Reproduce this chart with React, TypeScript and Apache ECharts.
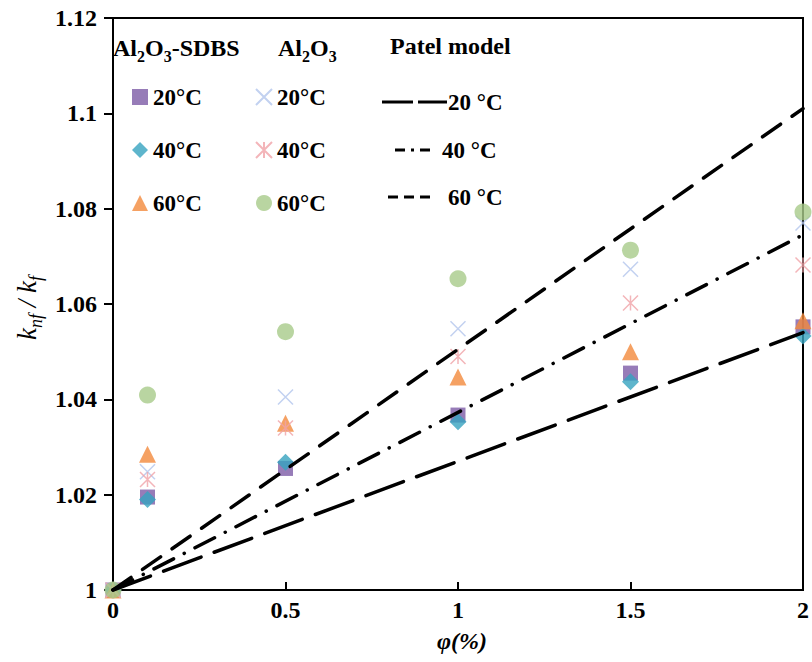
import { useEffect, useRef } from 'react';
import * as echarts from 'echarts';

const FONT = '"Liberation Serif", "Times New Roman", serif';

// concentration φ (%)
const phi = [0, 0.1, 0.5, 1, 1.5, 2];
// Al2O3-SDBS
const sdbs20 = [1, 1.0195, 1.0255, 1.0367, 1.0455, 1.0552];
const sdbs40 = [1, 1.019, 1.0268, 1.0353, 1.0437, 1.0533];
const sdbs60 = [1, 1.0285, 1.035, 1.0447, 1.05, 1.0565];
// Al2O3
const al20 = [1, 1.0248, 1.0405, 1.0548, 1.0673, 1.077];
const al40 = [1, 1.0232, 1.034, 1.049, 1.0602, 1.0682];
const al60 = [1, 1.0409, 1.0542, 1.0653, 1.0713, 1.0793];
// Patel model (straight lines)
const patelPhi = [0, 2];
const patel20 = [1, 1.054];
const patel40 = [1, 1.0745];
const patel60 = [1, 1.101];
const patelLabels = ['20 °C', '40 °C', '60 °C'];

const xTicks = { min: 0, max: 2, interval: 0.5 };
const yTicks = { min: 1, max: 1.12, interval: 0.02 };

const X_PATH = 'path://M0,0L10,10M10,0L0,10';
const AST_PATH = 'path://M0,0L10,10M10,0L0,10M5,0L5,10';

export default function App() {
  const ref = useRef<HTMLDivElement>(null);
  useEffect(() => {
    const chart = echarts.init(ref.current!, null, { renderer: 'svg' });
    const pts = (ys: number[]) => phi.map((x, i) => [x, ys[i]]);
    const lpts = (ys: number[]) => patelPhi.map((x, i) => [x, ys[i]]);
    const legText = {
      fontFamily: FONT,
      fontWeight: 'bold' as const,
      fontSize: 23,
      color: '#000',
      lineHeight: 24,
    };
    const fmt = (n: string) => n.split(' ').slice(1).join(' ');
    const bold = { fontFamily: FONT, fontWeight: 'bold' as const, fontSize: 24, fill: '#000' };
    const sub = { fontFamily: FONT, fontWeight: 'bold' as const, fontSize: 16, fill: '#000', padding: [16, 0, 0, 0] };
    const legStroke = { stroke: '#000', lineWidth: 3.2 };
    const patelLegend = [
      { y: 102, x1: 382, x2: 447, dash: [31, 5, 29, 50], tx: 448 },
      { y: 150, x1: 395, x2: 430, dash: [10, 6, 3, 6, 10, 50], tx: 442 },
      { y: 197, x1: 388, x2: 430, dash: [10, 6, 10, 6, 10, 50], tx: 448 },
    ];
    const patelGraphics: any[] = [];
    patelLegend.forEach((p, i) => {
      patelGraphics.push({
        type: 'line', shape: { x1: p.x1, y1: p.y, x2: p.x2, y2: p.y },
        style: { ...legStroke, lineDash: p.dash },
      });
      patelGraphics.push({
        type: 'text', x: p.tx, y: p.y,
        style: { text: patelLabels[i], ...bold, fontSize: 23, align: 'left', verticalAlign: 'middle' },
      });
    });
    chart.setOption({
      animation: false,
      backgroundColor: '#fff',
      grid: { left: 113, right: 4, top: 18, bottom: 72, show: true, borderColor: '#000', borderWidth: 2 },
      xAxis: {
        type: 'value',
        ...xTicks,
        axisLine: { show: true, lineStyle: { color: '#000', width: 2 } },
        axisTick: { show: true, inside: true, length: 8, lineStyle: { color: '#000', width: 2 } },
        splitLine: { show: false },
        axisLabel: { color: '#000', fontFamily: FONT, fontWeight: 'bold', fontSize: 24, margin: 8 },
      },
      yAxis: {
        type: 'value',
        ...yTicks,
        axisLine: { show: true, lineStyle: { color: '#000', width: 2 } },
        axisTick: { show: true, inside: false, length: 9, lineStyle: { color: '#000', width: 2 } },
        splitLine: { show: false },
        axisLabel: {
          color: '#000', fontFamily: FONT, fontWeight: 'bold', fontSize: 24, margin: 16,
          formatter: (v: number) => String(Number(v.toFixed(2))),
        },
      },
      legend: [
        {
          orient: 'vertical', left: 132, top: 85, padding: 0, itemWidth: 16, itemHeight: 16, itemGap: 29,
          selectedMode: false, formatter: fmt, textStyle: legText,
          data: ['SDBS 20°C', 'SDBS 40°C', 'SDBS 60°C'],
        },
        {
          orient: 'vertical', left: 255, top: 85, padding: 0, itemWidth: 16, itemHeight: 16, itemGap: 29,
          selectedMode: false, formatter: fmt, textStyle: legText,
          data: ['Al 20°C', 'Al 40°C', 'Al 60°C'],
        },
      ],
      graphic: [
        {
          type: 'text', x: 113, y: 48,
          style: { text: '{b|Al}{s|2}{b|O}{s|3}{b|-SDBS}', rich: { b: bold, s: sub }, align: 'left', verticalAlign: 'middle' },
        },
        {
          type: 'text', x: 278, y: 48,
          style: { text: '{b|Al}{s|2}{b|O}{s|3}', rich: { b: bold, s: sub }, align: 'left', verticalAlign: 'middle' },
        },
        {
          type: 'text', x: 390, y: 46,
          style: { text: 'Patel model', ...bold, align: 'left', verticalAlign: 'middle' },
        },
        ...patelGraphics,
        {
          type: 'text', x: 27, y: 308, rotation: Math.PI / 2,
          style: {
            text: '{i|k}{s|nf}{i| / k}{s|f}',
            rich: {
              i: { fontFamily: FONT, fontStyle: 'italic', fontSize: 27, fill: '#000' },
              s: { fontFamily: FONT, fontStyle: 'italic', fontSize: 18, fill: '#000', padding: [18, 0, 0, 0] },
            },
            align: 'center', verticalAlign: 'middle',
          },
        },
        {
          type: 'text', x: 462, y: 641,
          style: {
            text: 'φ(%)', fontFamily: FONT, fontStyle: 'italic', fontWeight: 'bold', fontSize: 24, fill: '#000',
            align: 'center', verticalAlign: 'middle',
          },
        },
      ],
      series: [
        { type: 'scatter', name: 'SDBS 20°C', data: pts(sdbs20), symbol: 'rect', symbolSize: 15, itemStyle: { color: '#7d5ba6' }, z: 2 },
        { type: 'scatter', name: 'SDBS 40°C', data: pts(sdbs40), symbol: 'diamond', symbolSize: 17, itemStyle: { color: '#36a2bf' }, z: 2 },
        { type: 'scatter', name: 'SDBS 60°C', data: pts(sdbs60), symbol: 'triangle', symbolSize: 17, itemStyle: { color: '#f28a3c' }, z: 2 },
        {
          type: 'scatter', name: 'Al 20°C', data: pts(al20), symbol: X_PATH, symbolSize: 15,
          itemStyle: { color: 'rgba(0,0,0,0)', borderColor: '#b3c6ec', borderWidth: 1.5 }, z: 2,
        },
        {
          type: 'scatter', name: 'Al 40°C', data: pts(al40), symbol: AST_PATH, symbolSize: 15,
          itemStyle: { color: 'rgba(0,0,0,0)', borderColor: '#f0a3a8', borderWidth: 1.5 }, z: 2,
        },
        { type: 'scatter', name: 'Al 60°C', data: pts(al60), symbol: 'circle', symbolSize: 17, itemStyle: { color: '#a8cb8a' }, z: 2 },
        {
          type: 'line', name: 'Patel 20 °C', data: lpts(patel20), symbol: 'none', z: 3,
          lineStyle: { color: '#000', width: 3.5, type: [40, 14], cap: 'round' },
        },
        {
          type: 'line', name: 'Patel 40 °C', data: lpts(patel40), symbol: 'none', z: 3,
          lineStyle: { color: '#000', width: 3.5, type: [22, 12, 0.1, 12], cap: 'round' },
        },
        {
          type: 'line', name: 'Patel 60 °C', data: lpts(patel60), symbol: 'none', z: 3,
          lineStyle: { color: '#000', width: 3.5, type: [22, 14], cap: 'round' },
        },
      ],
    });
    return () => chart.dispose();
  }, []);
  return <div ref={ref} style={{ position: 'absolute', left: 0, top: 0, width: 812, height: 662 }} />;
}
